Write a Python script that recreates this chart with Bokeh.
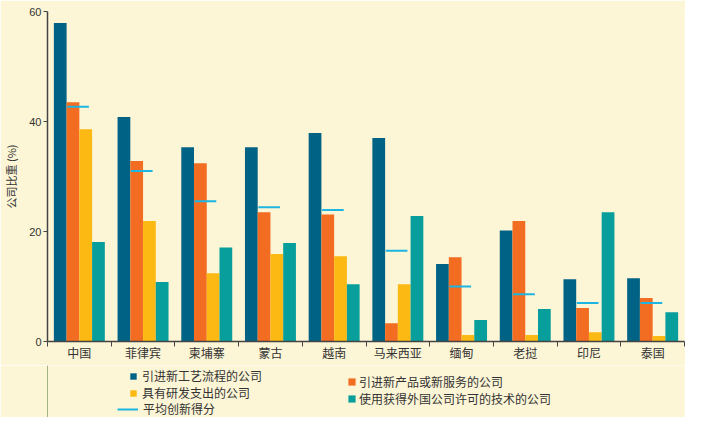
from bokeh.plotting import figure
from bokeh.layouts import column
from bokeh.models import Range1d, FixedTicker, Legend, LegendItem
from bokeh.embed import file_html
from bokeh.resources import INLINE

countries = ["中国", "菲律宾", "柬埔寨", "蒙古", "越南", "马来西亚", "缅甸", "老挝", "印尼", "泰国"]
process = [57.9, 40.8, 35.3, 35.3, 37.9, 37.0, 14.1, 20.2, 11.3, 11.5]
product = [43.5, 32.8, 32.4, 23.5, 23.1, 3.3, 15.3, 21.9, 6.1, 7.9]
rnd = [38.6, 21.9, 12.4, 15.9, 15.5, 10.4, 1.2, 1.2, 1.7, 1.0]
licensed = [18.1, 10.8, 17.1, 17.9, 10.4, 22.8, 3.9, 5.9, 23.5, 5.3]
avg_score = [42.7, 31.0, 25.5, 24.4, 23.9, 16.5, 10.0, 8.6, 7.0, 7.0]
y_ticks = [0, 20, 40, 60]

names = ["引进新工艺流程的公司", "引进新产品或新服务的公司", "具有研发支出的公司", "使用获得外国公司许可的技术的公司"]
colors = ["#006285", "#F26D21", "#FDB913", "#079E9B"]
avg_name = "平均创新得分"
avg_color = "#1DB5E2"

BG = "#FCF5D6"
FONT = "Noto Sans CJK SC"
TXT = "#333333"

p = figure(width=685, frame_height=330, output_backend="svg", toolbar_location=None,
           x_range=Range1d(0, len(countries)), y_range=Range1d(0, 60),
           min_border_top=11, min_border_right=1, min_border_left=38, min_border_bottom=24,
           background_fill_color=BG, border_fill_color=BG, outline_line_color=None)
p.xgrid.visible = False
p.ygrid.visible = False

idx = list(range(len(countries)))
series = [process, product, rnd, licensed]
offs = [0.2, 0.4, 0.6, 0.8]
for s, c, o in zip(series, colors, offs):
    p.vbar(x=[i + o for i in idx], top=s, width=0.2, bottom=0, fill_color=c, line_color=None)

p.segment(x0=[i + 0.31 for i in idx], x1=[i + 0.65 for i in idx], y0=avg_score, y1=avg_score,
          line_color=avg_color, line_width=2)

# x axis
xa = p.xaxis[0]
xa.ticker = FixedTicker(ticks=[i + 0.5 for i in idx], minor_ticks=list(range(len(countries) + 1)))
xa.major_label_overrides = {i + 0.5: c for i, c in zip(idx, countries)}
xa.major_tick_out = 0
xa.major_tick_in = 0
xa.minor_tick_out = 5
xa.minor_tick_in = 0
xa.minor_tick_line_color = "#444444"
xa.axis_line_color = "#444444"
xa.axis_line_width = 1.5
xa.major_label_text_font = FONT
xa.major_label_text_font_size = "12px"
xa.major_label_text_color = TXT
xa.major_label_standoff = -3

ya = p.yaxis[0]
ya.ticker = FixedTicker(ticks=y_ticks, minor_ticks=[])
ya.major_tick_out = 4
ya.major_tick_in = 0
ya.major_tick_line_color = "#444444"
ya.axis_line_color = "#444444"
ya.axis_line_width = 1.5
ya.major_label_text_font = "Liberation Sans"
ya.major_label_text_font_size = "11px"
ya.major_label_text_color = TXT
ya.major_label_standoff = 2
ya.axis_label = "公司比重 (%)"
ya.axis_label_text_font = FONT
ya.axis_label_text_font_size = "11px"
ya.axis_label_text_font_style = "normal"
ya.axis_label_text_color = TXT
ya.axis_label_standoff = 7

# legend panel (separate figure below the chart, frame aligned with the chart's frame)
LH = 52
lf = figure(width=685, height=LH, output_backend="svg", toolbar_location=None,
            x_range=Range1d(0, 1), y_range=Range1d(0, 1), x_axis_type=None, y_axis_type=None,
            min_border_left=38, min_border_right=1, min_border_top=0, min_border_bottom=0,
            background_fill_color=BG, border_fill_color=BG, outline_line_color=None)
leg_r = [lf.vbar(x=[-5], top=[1], width=0.1, fill_color=c, line_color=None) for c in colors]
leg_avg = lf.segment(x0=[-5], x1=[-4], y0=[0.5], y1=[0.5], line_color=avg_color, line_width=2)


def mk_legend(items, loc, gw, gh, standoff, spacing):
    lg = Legend(items=items, location=loc, orientation="vertical",
                glyph_width=gw, glyph_height=gh, label_standoff=standoff, spacing=spacing,
                padding=0, margin=0, border_line_color=None, background_fill_alpha=0,
                label_text_font=FONT, label_text_font_size="12px", label_text_color=TXT,
                label_height=15)
    lf.add_layout(lg, "center")
    return lg


mk_legend([LegendItem(label=names[0], renderers=[leg_r[0]]),
           LegendItem(label=names[2], renderers=[leg_r[2]])],
          (82, 16), 8, 8, 5, -2)
mk_legend([LegendItem(label=names[1], renderers=[leg_r[1]]),
           LegendItem(label=names[3], renderers=[leg_r[3]])],
          (300, 10), 9, 9, 3, -2)
mk_legend([LegendItem(label=avg_name, renderers=[leg_avg])],
          (70, 0), 21, 4, 5, 0)

open("out.html", "w").write(file_html(column(p, lf, spacing=0), INLINE))
